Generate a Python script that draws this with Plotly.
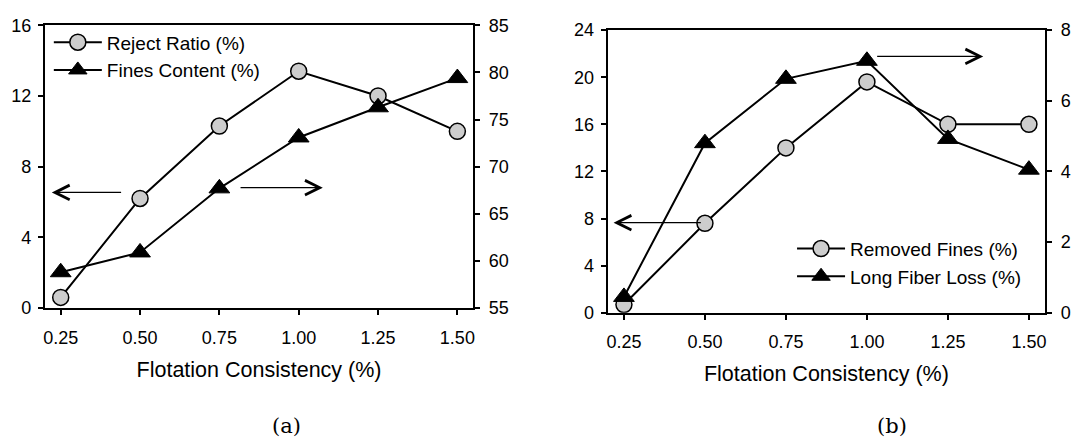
import plotly.graph_objects as go

# ---------------- data ----------------
consistency = [0.25, 0.50, 0.75, 1.00, 1.25, 1.50]
x_tick_vals = [0.25, 0.50, 0.75, 1.00, 1.25, 1.50]
x_tick_text = ["0.25", "0.50", "0.75", "1.00", "1.25", "1.50"]

# panel (a)
reject_ratio = [0.6, 6.2, 10.3, 13.4, 12.0, 10.0]          # left axis (0-16)
fines_content = [58.8, 60.9, 67.7, 73.1, 76.3, 79.4]       # right axis (55-85)

# panel (b)
removed_fines = [0.7, 7.6, 14.0, 19.6, 16.0, 16.0]         # left axis (0-24)
long_fiber_loss = [0.45, 4.8, 6.62, 7.13, 4.92, 4.05]      # right axis (0-8)

W, H = 1075, 447
FONT = "Liberation Sans, Arial, sans-serif"
GRAY = "#cdcdcd"

circle_marker = dict(symbol="circle", size=16, color=GRAY, line=dict(color="black", width=1.5))
tri_marker = dict(symbol="triangle-up", size=18, color="black", line=dict(color="black", width=1))
line_style = dict(color="black", width=2)

fig = go.Figure()

fig.add_trace(go.Scatter(x=consistency, y=reject_ratio, mode="lines+markers",
                         name="Reject Ratio (%)", marker=circle_marker, line=line_style,
                         xaxis="x", yaxis="y", legend="legend"))
fig.add_trace(go.Scatter(x=consistency, y=fines_content, mode="lines+markers",
                         name="Fines Content (%)", marker=tri_marker, line=line_style,
                         xaxis="x", yaxis="y2", legend="legend"))
fig.add_trace(go.Scatter(x=consistency, y=removed_fines, mode="lines+markers",
                         name="Removed Fines (%)", marker=circle_marker, line=line_style,
                         xaxis="x2", yaxis="y3", legend="legend2"))
fig.add_trace(go.Scatter(x=consistency, y=long_fiber_loss, mode="lines+markers",
                         name="Long Fiber Loss (%)", marker=tri_marker, line=line_style,
                         xaxis="x2", yaxis="y4", legend="legend2"))


def px_x(p):
    return p / W


def px_y(p):
    return 1 - p / H


tick_font = dict(family=FONT, size=18, color="black")
axis_common = dict(showline=True, linecolor="black", linewidth=2, ticks="outside",
                   ticklen=5, tickwidth=1.5, tickcolor="black", showgrid=False,
                   zeroline=False, tickfont=tick_font)

xa = dict(axis_common, range=[0.2, 1.55], tickvals=x_tick_vals, ticktext=x_tick_text,
          mirror=True, ticklabelstandoff=7,
          title=dict(text="Flotation Consistency (%)", font=dict(family=FONT, size=21.5, color="black"),
                     standoff=15))

fig.update_layout(
    width=W, height=H,
    margin=dict(l=0, r=0, t=0, b=0),
    paper_bgcolor="white", plot_bgcolor="white",
    xaxis=dict(xa, domain=[px_x(43), px_x(473)], anchor="y"),
    yaxis=dict(axis_common, domain=[px_y(312), px_y(16)], range=[0, 16], dtick=4, anchor="x",
               ticklabelstandoff=3),
    yaxis2=dict(axis_common, domain=[px_y(312), px_y(16)], range=[55, 85], dtick=5,
                overlaying="y", side="right", anchor="x", ticklabelstandoff=5),
    xaxis2=dict(xa, domain=[px_x(608), px_x(1047)], anchor="y3"),
    yaxis3=dict(axis_common, domain=[px_y(317), px_y(21)], range=[0, 24], dtick=4, anchor="x2",
                ticklabelstandoff=3),
    yaxis4=dict(axis_common, domain=[px_y(317), px_y(21)], range=[0, 8], dtick=2,
                overlaying="y3", side="right", anchor="x2", ticklabelstandoff=5),
    legend=dict(x=px_x(47), y=px_y(14), xanchor="left", yanchor="top",
                font=dict(family=FONT, size=19, color="black"), bgcolor="rgba(0,0,0,0)",
                itemwidth=48, tracegroupgap=0),
    legend2=dict(x=px_x(793), y=px_y(230), xanchor="left", yanchor="top",
                 font=dict(family=FONT, size=19, color="black"), bgcolor="rgba(0,0,0,0)",
                 itemwidth=48, tracegroupgap=0),
    showlegend=True,
)

# arrows indicating which axis each series belongs to
arrows = [
    dict(x=0.222, y=6.54, ax=0.445, ay=6.54, xref="x", yref="y", axref="x", ayref="y"),
    dict(x=1.076, y=6.81, ax=0.812, ay=6.81, xref="x", yref="y", axref="x", ayref="y"),
    dict(x=0.218, y=7.65, ax=0.492, ay=7.65, xref="x2", yref="y3", axref="x2", ayref="y3"),
    dict(x=1.359, y=21.76, ax=1.027, ay=21.76, xref="x2", yref="y3", axref="x2", ayref="y3"),
]
for a in arrows:
    fig.add_annotation(showarrow=True, arrowhead=5, arrowsize=2.4, arrowwidth=1.2,
                       arrowcolor="black", text="", **a)

for label, xc in [("(a)", 286), ("(b)", 893)]:
    fig.add_annotation(text=label, x=px_x(xc), y=px_y(436), xref="paper", yref="paper",
                       showarrow=False, xanchor="center", yanchor="middle",
                       font=dict(family="DejaVu Serif, Liberation Serif, serif", size=21, color="black"))

fig.write_html("out.html", config={"displayModeBar": False},
               post_script="document.body.style.margin='0';document.body.style.overflow='hidden';")
